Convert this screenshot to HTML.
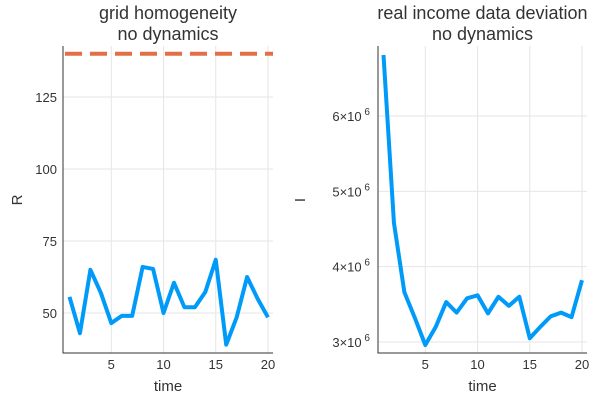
<!DOCTYPE html>
<html><head><meta charset="utf-8"><style>
body{margin:0;background:#fff}
svg text{font-family:"Liberation Sans","DejaVu Sans",sans-serif;fill:#333}
</style></head><body>
<svg id="c" width="600" height="400" xmlns="http://www.w3.org/2000/svg"></svg>
<script>
const timeSteps=[1,2,3,4,5,6,7,8,9,10,11,12,13,14,15,16,17,18,19,20];
const gridR=[55.6,43,65,57,46.5,49,49,66,65.3,50,60.5,52,52,57.3,68.5,39,48.5,62.5,55,48.5];
const refR=[140];
const incomeI=[6.81,4.58,3.66,3.32,2.96,3.2,3.53,3.39,3.58,3.62,3.38,3.6,3.48,3.6,3.05,3.2,3.34,3.39,3.33,3.82];
const leftYTicks=[50,75,100,125];
const rightYTicks=[3,4,5,6];
const xTicks=[5,10,15,20];
const NS="http://www.w3.org/2000/svg";
const svg=document.getElementById('c');
function mk(t,a,txt){const e=document.createElementNS(NS,t);for(const k in a)e.setAttribute(k,a[k]);if(txt!==undefined)e.textContent=txt;svg.appendChild(e);return e;}
function panel(p){
  const sx=v=>p.x0+(v-1)*(p.x20-p.x0)/19;
  const sy=v=>p.yA+(v-p.vA)*(p.yB-p.yA)/(p.vB-p.vA);
  xTicks.forEach(t=>{const g=mk('line',{x1:sx(t),x2:sx(t),y1:p.top,y2:p.bot,stroke:'#e6e6e6','stroke-width':1});
    
    const l=mk('text',{x:sx(t),y:p.bot+16,'text-anchor':'middle','font-size':13},t);
    });
  p.yTicks.forEach(t=>{const g=mk('line',{x1:p.left,x2:p.right,y1:sy(t),y2:sy(t),stroke:'#e6e6e6','stroke-width':1});
    
    let l;
    if(p.sci){l=mk('text',{x:p.left-8,y:sy(t)+5,'text-anchor':'end','font-size':13});
      const a=document.createElementNS(NS,'tspan');a.textContent=t+'×10';l.appendChild(a);
      const b=document.createElementNS(NS,'tspan');b.setAttribute('dy','-6');b.setAttribute('font-size','10');b.textContent=' 6';l.appendChild(b);}
    else l=mk('text',{x:p.left-6,y:sy(t)+5,'text-anchor':'end','font-size':13},t);
    });
  const ax=mk('path',{d:`M${p.left},${p.top}V${p.bot}H${p.right}`,fill:'none',stroke:'#333','stroke-width':1});
  
  p.series.forEach(s=>{
    const e=mk('polyline',{points:s.vals.map((v,i)=>sx(timeSteps[i])+','+sy(v)).join(' '),fill:'none',stroke:'#009af9','stroke-width':4,'stroke-linejoin':'round'});
    });
  if(p.ref){p.ref.forEach(r=>{const e=mk('line',{x1:p.left+2,x2:p.right,y1:sy(r),y2:sy(r),stroke:'#e26f46','stroke-width':4,'stroke-dasharray':'17 8'});
    });}
  const cx=(p.left+p.right)/2;
  let t1=mk('text',{x:cx,y:19,'text-anchor':'middle','font-size':18},p.title);
  
  let t2=mk('text',{x:cx,y:40,'text-anchor':'middle','font-size':18},'no dynamics');
  
  let xl=mk('text',{x:cx,y:391,'text-anchor':'middle','font-size':15},'time');
  
  let yl=mk('text',{x:p.ylx,y:200,'text-anchor':'middle','font-size':15,transform:`rotate(-90 ${p.ylx} 200)`},p.ylab);
  
}
panel({left:63,right:273,top:46,bot:353,x0:69.5,x20:268,yA:313,vA:50,yB:97,vB:125,yTicks:leftYTicks,
  series:[{vals:gridR,name:'grid-homogeneity-line'}],ref:refR,title:'grid homogeneity',ylab:'R',ylx:22});
panel({left:378,right:587,top:46,bot:353,x0:383.5,x20:582,yA:342,vA:3,yB:116,vB:6,yTicks:rightYTicks,sci:true,
  series:[{vals:incomeI,name:'income-deviation-line'}],title:'real income data deviation',ylab:'I',ylx:305});
</script>
</body></html>
